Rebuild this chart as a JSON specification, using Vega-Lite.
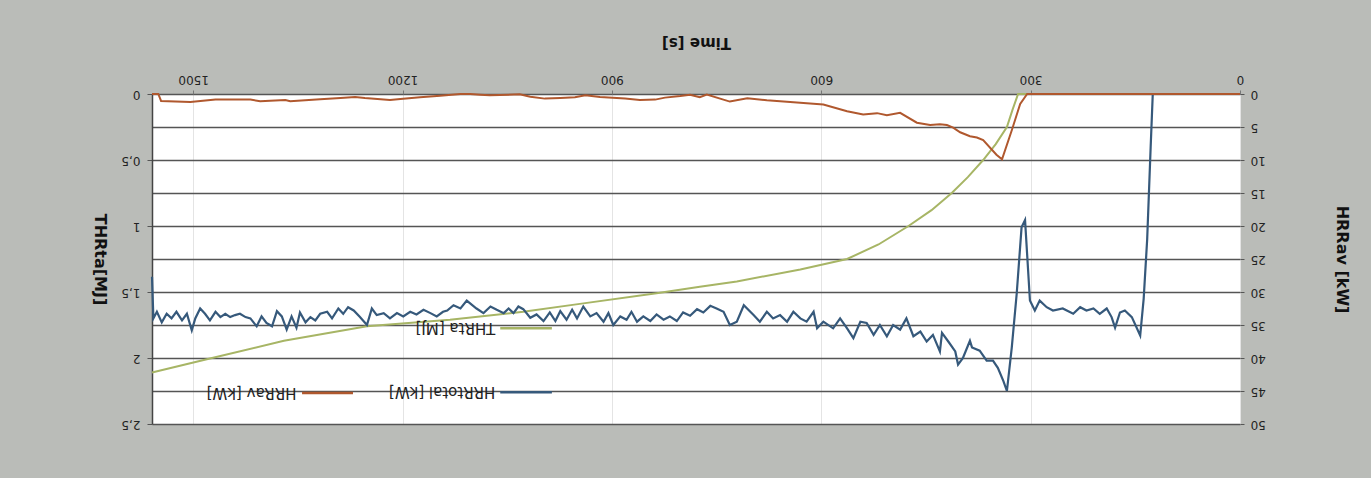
{
  "$schema": "https://vega.github.io/schema/vega-lite/v6.json",
  "width": 1088,
  "height": 330,
  "autosize": {"type": "none"},
  "padding": {"left": 152, "top": 94, "right": 131, "bottom": 54},
  "background": "#babcb8",
  "config": {
    "view": {"fill": "#ffffff", "stroke": null},
    "font": "DejaVu Sans",
    "axis": {"labelFont": "DejaVu Sans", "titleFont": "DejaVu Sans", "labelColor": "#222222", "titleColor": "#111111", "labelOverlap": false},
    "axisRight": {
      "labelAngle": 180, "labelAlign": "right", "labelBaseline": "middle", "labelFontSize": 12, "labelPadding": 6,
      "tickSize": 4, "tickColor": "#555555", "domain": false,
      "titleAngle": 90, "titleFontSize": 16, "titleFontWeight": "bold", "titlePadding": 68
    }
  },
  "datasets": {
    "thrta": [
      {"t": 0, "v": 0}, {"t": 318, "v": 0}, {"t": 326, "v": 0.12}, {"t": 334, "v": 0.25}, {"t": 350, "v": 0.38},
      {"t": 368, "v": 0.5}, {"t": 390, "v": 0.63}, {"t": 413, "v": 0.75}, {"t": 442, "v": 0.88}, {"t": 475, "v": 1.0},
      {"t": 518, "v": 1.14}, {"t": 563, "v": 1.25}, {"t": 630, "v": 1.33}, {"t": 721, "v": 1.42}, {"t": 774, "v": 1.46},
      {"t": 836, "v": 1.51}, {"t": 946, "v": 1.59}, {"t": 1027, "v": 1.65}, {"t": 1132, "v": 1.71}, {"t": 1251, "v": 1.76},
      {"t": 1370, "v": 1.87}, {"t": 1473, "v": 2.0}, {"t": 1559, "v": 2.11}
    ],
    "hrrav": [
      {"t": 0, "v": 0}, {"t": 305, "v": 0}, {"t": 315, "v": 1.5}, {"t": 327, "v": 5.5}, {"t": 341, "v": 9.9},
      {"t": 349, "v": 9.2}, {"t": 368, "v": 7.0}, {"t": 377, "v": 6.6}, {"t": 387, "v": 6.4}, {"t": 401, "v": 5.8},
      {"t": 411, "v": 5.1}, {"t": 420, "v": 4.7}, {"t": 430, "v": 4.6}, {"t": 444, "v": 4.7}, {"t": 463, "v": 4.35},
      {"t": 487, "v": 2.85}, {"t": 506, "v": 3.2}, {"t": 520, "v": 2.9}, {"t": 540, "v": 3.1}, {"t": 563, "v": 2.6},
      {"t": 597, "v": 1.6}, {"t": 635, "v": 1.3}, {"t": 678, "v": 0.95}, {"t": 706, "v": 0.65}, {"t": 731, "v": 1.15},
      {"t": 764, "v": 0.1}, {"t": 774, "v": 0.5}, {"t": 788, "v": 0.1}, {"t": 802, "v": 0.3}, {"t": 824, "v": 0.55},
      {"t": 838, "v": 0.85}, {"t": 860, "v": 0.9}, {"t": 881, "v": 0.7}, {"t": 917, "v": 0.45}, {"t": 938, "v": 0.2},
      {"t": 953, "v": 0.5}, {"t": 974, "v": 0.6}, {"t": 996, "v": 0.7}, {"t": 1017, "v": 0.4}, {"t": 1032, "v": 0.05},
      {"t": 1075, "v": 0.2}, {"t": 1089, "v": 0.1}, {"t": 1103, "v": 0}, {"t": 1117, "v": 0}, {"t": 1146, "v": 0.25},
      {"t": 1175, "v": 0.5}, {"t": 1203, "v": 0.75}, {"t": 1218, "v": 0.9}, {"t": 1254, "v": 0.6}, {"t": 1268, "v": 0.45},
      {"t": 1289, "v": 0.6}, {"t": 1318, "v": 0.8}, {"t": 1361, "v": 1.1}, {"t": 1368, "v": 0.9}, {"t": 1404, "v": 1.1},
      {"t": 1418, "v": 0.85}, {"t": 1468, "v": 0.85}, {"t": 1504, "v": 1.2}, {"t": 1546, "v": 1.05}, {"t": 1550, "v": 0},
      {"t": 1559, "v": 0}
    ],
    "hrrtotal": [
      {"t": 0, "v": 0}, {"t": 125, "v": 0}, {"t": 128, "v": 8}, {"t": 133, "v": 22}, {"t": 138, "v": 31}, {"t": 143, "v": 36.6},
      {"t": 155, "v": 33.8}, {"t": 165, "v": 32.8}, {"t": 172, "v": 33.1}, {"t": 179, "v": 35.4}, {"t": 184, "v": 33.8},
      {"t": 191, "v": 32.5}, {"t": 201, "v": 33.3}, {"t": 210, "v": 32.5}, {"t": 220, "v": 32.8}, {"t": 229, "v": 32.3},
      {"t": 239, "v": 33.3}, {"t": 254, "v": 32.5}, {"t": 268, "v": 32.8}, {"t": 277, "v": 32.3}, {"t": 287, "v": 31.3},
      {"t": 294, "v": 32.8}, {"t": 301, "v": 31.3}, {"t": 308, "v": 19.1}, {"t": 313, "v": 20.2}, {"t": 320, "v": 30.3},
      {"t": 327, "v": 38.4}, {"t": 334, "v": 45.0}, {"t": 339, "v": 43.5}, {"t": 347, "v": 41.5}, {"t": 354, "v": 40.4},
      {"t": 363, "v": 40.4}, {"t": 373, "v": 38.9}, {"t": 384, "v": 38.4}, {"t": 387, "v": 37.4}, {"t": 397, "v": 40},
      {"t": 404, "v": 41}, {"t": 408, "v": 39}, {"t": 418, "v": 37.5}, {"t": 427, "v": 36.2}, {"t": 430, "v": 39.0},
      {"t": 440, "v": 36.5}, {"t": 449, "v": 37.5}, {"t": 458, "v": 36}, {"t": 468, "v": 36.7}, {"t": 478, "v": 34},
      {"t": 487, "v": 35.7}, {"t": 497, "v": 35}, {"t": 506, "v": 36.7}, {"t": 516, "v": 35}, {"t": 525, "v": 36.5},
      {"t": 535, "v": 34.7}, {"t": 544, "v": 34.5}, {"t": 554, "v": 37}, {"t": 563, "v": 35.5}, {"t": 573, "v": 34},
      {"t": 583, "v": 35.5}, {"t": 597, "v": 34.5}, {"t": 606, "v": 35.5}, {"t": 611, "v": 33}, {"t": 621, "v": 34.5},
      {"t": 630, "v": 34}, {"t": 640, "v": 33}, {"t": 649, "v": 34.5}, {"t": 659, "v": 33.5}, {"t": 669, "v": 34},
      {"t": 678, "v": 33}, {"t": 688, "v": 34.5}, {"t": 697, "v": 33.5}, {"t": 711, "v": 32}, {"t": 721, "v": 34.5},
      {"t": 731, "v": 35}, {"t": 740, "v": 33}, {"t": 750, "v": 32.5}, {"t": 759, "v": 32.1}, {"t": 769, "v": 33.1},
      {"t": 778, "v": 32.6}, {"t": 788, "v": 33.6}, {"t": 798, "v": 33.1}, {"t": 807, "v": 34.4}, {"t": 817, "v": 33.7},
      {"t": 826, "v": 34.2}, {"t": 836, "v": 33.4}, {"t": 845, "v": 34.4}, {"t": 855, "v": 33.7}, {"t": 864, "v": 34.5},
      {"t": 872, "v": 33}, {"t": 879, "v": 34.2}, {"t": 888, "v": 33.7}, {"t": 898, "v": 35}, {"t": 905, "v": 33.2},
      {"t": 912, "v": 34.5}, {"t": 922, "v": 33.2}, {"t": 931, "v": 33.7}, {"t": 941, "v": 32.2}, {"t": 950, "v": 34},
      {"t": 957, "v": 32.7}, {"t": 965, "v": 34.2}, {"t": 974, "v": 32.9}, {"t": 981, "v": 34.4}, {"t": 989, "v": 33.1},
      {"t": 998, "v": 34.4}, {"t": 1008, "v": 33.4}, {"t": 1017, "v": 33.9}, {"t": 1027, "v": 32.6}, {"t": 1034, "v": 32.2},
      {"t": 1041, "v": 33.2}, {"t": 1048, "v": 32.5}, {"t": 1055, "v": 33.2}, {"t": 1065, "v": 32.7}, {"t": 1074, "v": 32.2},
      {"t": 1084, "v": 33.2}, {"t": 1094, "v": 32.5}, {"t": 1108, "v": 31.3}, {"t": 1117, "v": 32.5}, {"t": 1127, "v": 32},
      {"t": 1136, "v": 32.8}, {"t": 1142, "v": 33}, {"t": 1151, "v": 33.7}, {"t": 1160, "v": 33.2}, {"t": 1170, "v": 32.7},
      {"t": 1180, "v": 33.4}, {"t": 1189, "v": 33}, {"t": 1199, "v": 33.7}, {"t": 1208, "v": 33.2}, {"t": 1218, "v": 34},
      {"t": 1227, "v": 33.2}, {"t": 1237, "v": 33.5}, {"t": 1244, "v": 32.5}, {"t": 1251, "v": 35}, {"t": 1261, "v": 33.8},
      {"t": 1270, "v": 32.8}, {"t": 1278, "v": 32.3}, {"t": 1285, "v": 33.3}, {"t": 1292, "v": 32.5}, {"t": 1301, "v": 34},
      {"t": 1308, "v": 33}, {"t": 1318, "v": 33.3}, {"t": 1325, "v": 34.3}, {"t": 1332, "v": 33.8}, {"t": 1339, "v": 34.6},
      {"t": 1347, "v": 33.1}, {"t": 1352, "v": 35.4}, {"t": 1359, "v": 33.7}, {"t": 1366, "v": 35.7}, {"t": 1373, "v": 33.7},
      {"t": 1380, "v": 32.9}, {"t": 1387, "v": 35.2}, {"t": 1395, "v": 34.7}, {"t": 1402, "v": 33.7}, {"t": 1409, "v": 35.2},
      {"t": 1418, "v": 34}, {"t": 1425, "v": 33.8}, {"t": 1433, "v": 33.3}, {"t": 1440, "v": 33.5}, {"t": 1447, "v": 33.8},
      {"t": 1454, "v": 33.3}, {"t": 1461, "v": 33.8}, {"t": 1468, "v": 33}, {"t": 1476, "v": 34.3}, {"t": 1483, "v": 33.3},
      {"t": 1490, "v": 32.5}, {"t": 1497, "v": 34}, {"t": 1502, "v": 35.8}, {"t": 1509, "v": 33.3}, {"t": 1516, "v": 34.3},
      {"t": 1524, "v": 33}, {"t": 1531, "v": 34}, {"t": 1538, "v": 33.3}, {"t": 1545, "v": 34.6}, {"t": 1552, "v": 33},
      {"t": 1557, "v": 34}, {"t": 1559, "v": 27.7}
    ]
  },
  "layer": [
    {
      "data": {"name": "thrta"},
      "mark": {"type": "line", "color": "#a7b565", "strokeWidth": 2},
      "encoding": {
        "x": {
          "field": "t", "type": "quantitative", "title": "Time [s]",
          "scale": {"domain": [0, 1559], "reverse": true, "nice": false, "zero": false},
          "axis": {
            "orient": "top", "values": [0, 300, 600, 900, 1200, 1500], "format": "d",
            "labelAngle": 180, "labelAlign": "center", "labelBaseline": "top", "labelFontSize": 12, "labelPadding": 6,
            "tickSize": 4, "tickColor": "#777777", "domain": false,
            "grid": true, "gridColor": "#e4e4e4", "gridWidth": 1,
            "title": "Time [s]", "titleAngle": 180, "titleBaseline": "top", "titleFontSize": 15, "titleFontWeight": "bold", "titlePadding": 24
          }
        },
        "y": {
          "field": "v", "type": "quantitative", "title": "THRta[MJ]",
          "scale": {"domain": [0, 2.5], "reverse": true, "nice": false},
          "axis": {
            "orient": "left", "values": [0, 0.25, 0.5, 0.75, 1, 1.25, 1.5, 1.75, 2, 2.25, 2.5],
            "labelExpr": "datum.value * 4 % 2 == 0 ? replace(format(datum.value, '~g'), '.', ',') : ''",
            "labelAngle": 180, "labelAlign": "left", "labelBaseline": "middle", "labelFontSize": 12, "labelPadding": 7,
            "tickSize": 5,
            "tickColor": {"condition": {"test": "datum.value * 4 % 2 == 0", "value": "#555555"}, "value": "transparent"},
            "domain": true, "domainColor": "#444444", "domainWidth": 1.5,
            "grid": true, "gridColor": "#555555", "gridWidth": 1.3,
            "title": "THRta[MJ]", "titleAngle": 90, "titleBaseline": "top", "titleFontSize": 16, "titleFontWeight": "bold", "titlePadding": 13
          }
        }
      }
    },
    {
      "layer": [
        {
          "data": {"name": "hrrtotal"},
          "mark": {"type": "line", "color": "#36597b", "strokeWidth": 2.2},
          "encoding": {
            "x": {"field": "t", "type": "quantitative", "title": "Time [s]"},
            "y": {
              "field": "v", "type": "quantitative", "title": "HRRav [kW]",
              "scale": {"domain": [0, 50], "reverse": true, "nice": false},
              "axis": {"orient": "right", "grid": false, "values": [0, 5, 10, 15, 20, 25, 30, 35, 40, 45, 50], "title": "HRRav [kW]"}
            }
          }
        },
        {
          "data": {"name": "hrrav"},
          "mark": {"type": "line", "color": "#b0582e", "strokeWidth": 2},
          "encoding": {
            "x": {"field": "t", "type": "quantitative", "title": "Time [s]"},
            "y": {"field": "v", "type": "quantitative", "title": "HRRav [kW]",
              "axis": {"orient": "right", "grid": false, "values": [0, 5, 10, 15, 20, 25, 30, 35, 40, 45, 50], "title": "HRRav [kW]"}}
          }
        },
        {
          "data": {"values": [{}]},
          "mark": {"type": "rule", "color": "#36597b", "strokeWidth": 2.5},
          "encoding": {
            "x": {"datum": 1060, "type": "quantitative", "title": "Time [s]"}, "x2": {"datum": 986},
            "y": {"datum": 45.2, "type": "quantitative", "title": "HRRav [kW]",
              "axis": {"orient": "right", "grid": false, "values": [0, 5, 10, 15, 20, 25, 30, 35, 40, 45, 50], "title": "HRRav [kW]"}}
          }
        },
        {
          "data": {"values": [{}]},
          "mark": {"type": "rule", "color": "#b0582e", "strokeWidth": 2.5},
          "encoding": {
            "x": {"datum": 1344, "type": "quantitative", "title": "Time [s]"}, "x2": {"datum": 1271},
            "y": {"datum": 45.3, "type": "quantitative", "title": "HRRav [kW]",
              "axis": {"orient": "right", "grid": false, "values": [0, 5, 10, 15, 20, 25, 30, 35, 40, 45, 50], "title": "HRRav [kW]"}}
          }
        },
        {
          "data": {"values": [{}]},
          "mark": {"type": "rule", "color": "#a7b565", "strokeWidth": 2.5},
          "encoding": {
            "x": {"datum": 1060, "type": "quantitative", "title": "Time [s]"}, "x2": {"datum": 986},
            "y": {"datum": 35.5, "type": "quantitative", "title": "HRRav [kW]",
              "axis": {"orient": "right", "grid": false, "values": [0, 5, 10, 15, 20, 25, 30, 35, 40, 45, 50], "title": "HRRav [kW]"}}
          }
        },
        {
          "data": {"values": [{}]},
          "mark": {"type": "text", "angle": 180, "align": "left", "baseline": "middle", "fontSize": 15, "font": "DejaVu Sans", "color": "#222222"},
          "encoding": {
            "x": {"datum": 1067, "type": "quantitative", "title": "Time [s]"},
            "y": {"datum": 45.2, "type": "quantitative", "title": "HRRav [kW]",
              "axis": {"orient": "right", "grid": false, "values": [0, 5, 10, 15, 20, 25, 30, 35, 40, 45, 50], "title": "HRRav [kW]"}},
            "text": {"value": "HRRtotal [kW]"}
          }
        },
        {
          "data": {"values": [{}]},
          "mark": {"type": "text", "angle": 180, "align": "left", "baseline": "middle", "fontSize": 15, "font": "DejaVu Sans", "color": "#222222"},
          "encoding": {
            "x": {"datum": 1352, "type": "quantitative", "title": "Time [s]"},
            "y": {"datum": 45.3, "type": "quantitative", "title": "HRRav [kW]",
              "axis": {"orient": "right", "grid": false, "values": [0, 5, 10, 15, 20, 25, 30, 35, 40, 45, 50], "title": "HRRav [kW]"}},
            "text": {"value": "HRRav [kW]"}
          }
        },
        {
          "data": {"values": [{}]},
          "mark": {"type": "text", "angle": 180, "align": "left", "baseline": "middle", "fontSize": 15, "font": "DejaVu Sans", "color": "#222222"},
          "encoding": {
            "x": {"datum": 1067, "type": "quantitative", "title": "Time [s]"},
            "y": {"datum": 35.5, "type": "quantitative", "title": "HRRav [kW]",
              "axis": {"orient": "right", "grid": false, "values": [0, 5, 10, 15, 20, 25, 30, 35, 40, 45, 50], "title": "HRRav [kW]"}},
            "text": {"value": "THRta [MJ]"}
          }
        }
      ]
    }
  ],
  "resolve": {"scale": {"y": "independent"}}
}
